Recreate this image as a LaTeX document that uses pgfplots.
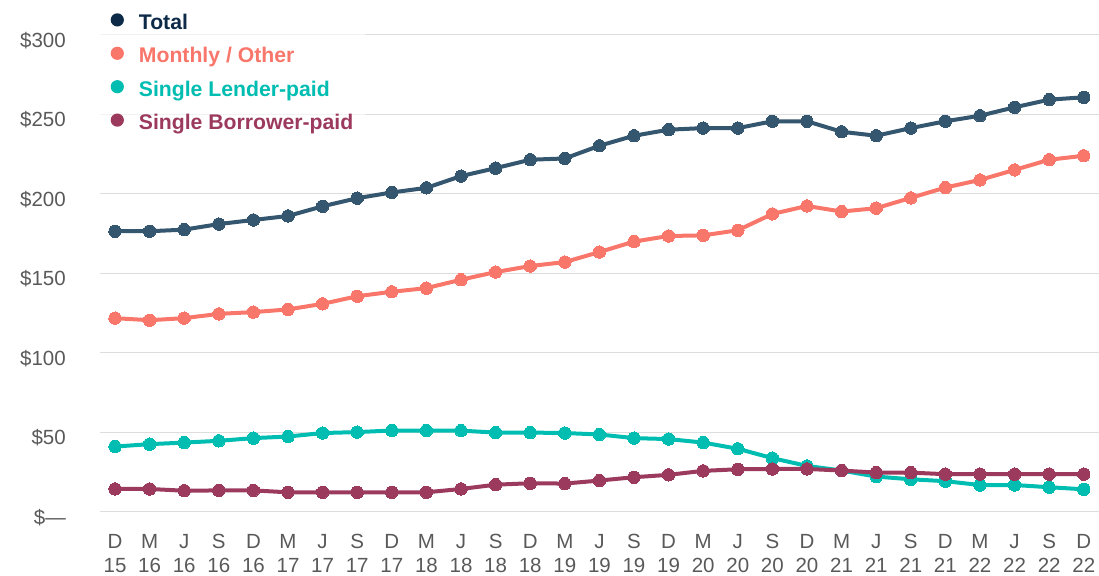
\documentclass[border=0pt]{standalone}
\usepackage{fontspec}
\setmainfont{Liberation Sans}
\usepackage{pgfplots}
\pgfplotsset{compat=1.18}
\usepackage{pgfplotstable}
\definecolor{totc}{HTML}{34566E}
\definecolor{totleg}{HTML}{0D2B48}
\definecolor{monc}{HTML}{F9766B}
\definecolor{lendc}{HTML}{00BDB2}
\definecolor{borc}{HTML}{9C3A5E}
\definecolor{labc}{HTML}{595959}
\definecolor{gridc}{HTML}{DDDDDD}
\newcommand{\xl}[2]{\vbox{\baselineskip=24pt\lineskiplimit=-100pt\halign{\hfil##\hfil\cr\rule{0pt}{15pt}#1\cr #2\cr}}}

\pgfplotstableread{
x tot mon lend borr
0 176.5 121.8 41.0 14.3
1 176.5 120.5 42.5 14.3
2 177.5 121.8 43.5 13.2
3 181.0 124.5 44.6 13.4
4 183.6 125.6 46.3 13.4
5 186.1 127.3 47.3 12.2
6 192.2 130.8 49.5 12.2
7 197.3 135.6 50.1 12.2
8 200.9 138.4 51.1 12.2
9 203.8 140.7 51.1 12.2
10 211.2 146.0 51.0 14.3
11 216.2 150.8 49.8 17.0
12 221.5 154.6 49.8 17.9
13 222.3 157.1 49.5 17.7
14 230.3 163.4 48.6 19.6
15 236.6 170.0 46.3 21.7
16 240.4 173.5 45.7 23.2
17 241.4 173.9 43.5 25.7
18 241.4 177.1 39.6 26.7
19 245.7 187.4 33.7 26.9
20 245.7 192.4 28.8 26.9
21 239.1 188.9 25.9 25.9
22 236.6 191.0 22.1 24.6
23 241.4 197.5 20.4 24.6
24 245.7 204.0 19.2 23.6
25 249.2 208.8 16.8 23.6
26 254.5 215.1 16.8 23.6
27 259.3 221.5 15.4 23.6
28 260.8 224.0 14.1 23.6
}\datatable

\begin{document}
\begin{tikzpicture}
\useasboundingbox (0,0) rectangle (1099pt,575pt);
\begin{axis}[
  at={(100pt,63.3pt)}, anchor=south west,
  scale only axis, width=999pt, height=476.7pt,
  xmin=-0.434, xmax=28.44, ymin=0, ymax=300,
  clip=false,
  axis line style={draw=none},
  major tick length=0pt,
  ymajorgrids, grid style={gridc, line width=1pt},
  xtick={0,...,28},
  xticklabels={{\xl{D}{15}},{\xl{M}{16}},{\xl{J}{16}},{\xl{S}{16}},{\xl{D}{16}},{\xl{M}{17}},{\xl{J}{17}},{\xl{S}{17}},{\xl{D}{17}},{\xl{M}{18}},{\xl{J}{18}},{\xl{S}{18}},{\xl{D}{18}},{\xl{M}{19}},{\xl{J}{19}},{\xl{S}{19}},{\xl{D}{19}},{\xl{M}{20}},{\xl{J}{20}},{\xl{S}{20}},{\xl{D}{20}},{\xl{M}{21}},{\xl{J}{21}},{\xl{S}{21}},{\xl{D}{21}},{\xl{M}{22}},{\xl{J}{22}},{\xl{S}{22}},{\xl{D}{22}}},
  ytick={0,50,100,150,200,250,300},
  yticklabels={\$\textemdash,\$50,\$100,\$150,\$200,\$250,\$300},
  tick label style={font=\fontsize{20.5}{24.3}\selectfont, text=labc},
  yticklabel style={anchor=east, inner sep=0pt, xshift=-34pt, yshift=-5.5pt},
  xticklabel style={anchor=north, inner sep=0pt, yshift=-21.8pt},
  legend cell align=left,
  legend style={at={(axis description cs:-0.0015,1.0711)}, anchor=north west,
    draw=none, fill=white, fill opacity=0.6, text opacity=1,
    inner sep=12pt, row sep=13.3pt, /tikz/column sep=15pt,
    nodes={inner sep=0pt, text height=15pt, text depth=4pt, font=\fontsize{21.2}{25}\selectfont\bfseries}},
  every axis plot/.append style={line width=4pt, mark=*, mark size=6.2pt, line join=round},
]
\addplot[totc, mark options={fill=totc, draw=totc, line width=0pt},
  legend image code/.code={\fill[totleg, fill opacity=1, draw=none] (0pt,4pt) circle (6.6pt);}] table[x=x,y=tot] {\datatable};
\addlegendentry{\textcolor{totleg}{Total}}
\addplot[monc, mark options={fill=monc, draw=monc, line width=0pt},
  legend image code/.code={\fill[monc, fill opacity=1, draw=none] (0pt,4pt) circle (6.6pt);}] table[x=x,y=mon] {\datatable};
\addlegendentry{\textcolor{monc}{Monthly / Other}}
\addplot[lendc, mark options={fill=lendc, draw=lendc, line width=0pt},
  legend image code/.code={\fill[lendc, fill opacity=1, draw=none] (0pt,4pt) circle (6.6pt);}] table[x=x,y=lend] {\datatable};
\addlegendentry{\textcolor{lendc}{Single Lender-paid}}
\addplot[borc, mark options={fill=borc, draw=borc, line width=0pt},
  legend image code/.code={\fill[borc, fill opacity=1, draw=none] (0pt,4pt) circle (6.6pt);}] table[x=x,y=borr] {\datatable};
\addlegendentry{\textcolor{borc}{Single Borrower-paid}}
\end{axis}
\end{tikzpicture}
\end{document}
